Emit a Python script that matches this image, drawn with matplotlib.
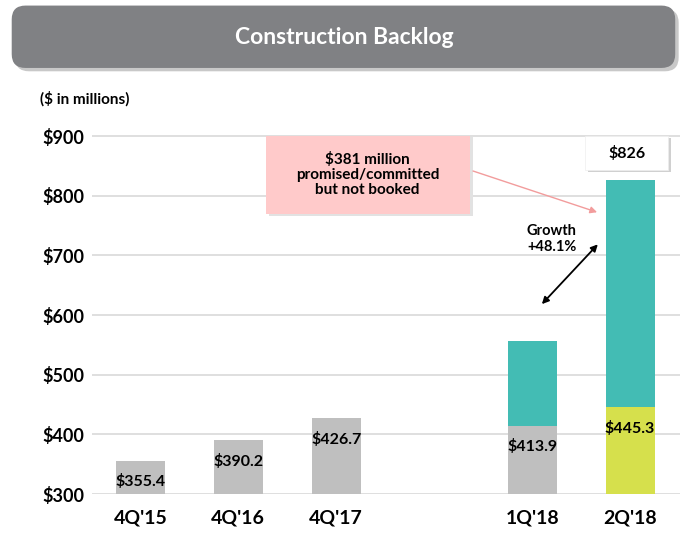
import matplotlib
matplotlib.use('Agg')
import matplotlib.pyplot as plt
from matplotlib.patches import FancyBboxPatch, Rectangle

# data
periods = ["4Q'15", "4Q'16", "4Q'17", "1Q'18", "2Q'18"]
slots = [0, 1, 2, 4, 5]  # gap before 2018 quarters
booked = [355.4, 390.2, 426.7, 413.9, 445.3]
promised = [0, 0, 0, 142.0, 380.7]
total_2q18 = 826
growth_label = "Growth\n+48.1%"
note_text = "$381 million\npromised/committed\nbut not booked"
yticks = [300, 400, 500, 600, 700, 800, 900]

GRAY = '#bfbfbf'
TEAL = '#43bcb4'
YELLOW = '#d6e04c'

plt.rcParams['font.family'] = ['Lato', 'DejaVu Sans']

fig = plt.figure(figsize=(6.89, 5.57), dpi=100)
ax = fig.add_axes([0.134, 0.113, 0.853, 0.664])

base = 300
booked_colors = [GRAY, GRAY, GRAY, GRAY, YELLOW]
heights = [b - base for b in booked]
ax.bar(slots, heights, bottom=base, width=0.5, color=booked_colors, zorder=3)
ax.bar(slots, promised, bottom=booked, width=0.5, color=TEAL, zorder=3)

# value labels just under the top of the booked part
for x, v in zip(slots, booked):
    ax.annotate(f"${v:.1f}", (x, v), xytext=(0, -15), textcoords='offset points',
                ha='center', va='center', fontsize=11.5, fontweight='bold', zorder=5)

ax.set_xlim(-0.49, 5.51)
ax.set_ylim(300, 920)
ax.set_yticks(yticks)
ax.set_yticklabels([f"${t}" for t in yticks])
ax.set_xticks(slots)
ax.set_xticklabels(periods)
ax.tick_params(axis='both', length=0)
ax.tick_params(axis='x', pad=11, labelsize=14)
ax.tick_params(axis='y', pad=6, labelsize=13)
for lab in ax.get_xticklabels() + ax.get_yticklabels():
    lab.set_fontweight('bold')
for s in ax.spines.values():
    s.set_visible(False)
ax.grid(axis='y', color='#d9d9d9', linewidth=1.2, zorder=0)

# pink call-out box
ax.add_patch(Rectangle((1.31, 766), 2.09, 132, facecolor='#e2e2e2', edgecolor='none', zorder=3, clip_on=False))
ax.add_patch(Rectangle((1.28, 770), 2.09, 131, facecolor='#ffcaca', edgecolor='none', zorder=4, clip_on=False))
ax.text(2.32, 836, note_text, ha='center', va='center', fontsize=11, fontweight='bold',
        linespacing=1.1, zorder=5)
ax.annotate('', xy=(4.69, 771), xytext=(3.37, 843),
            arrowprops=dict(arrowstyle='-|>', color='#f29c9c', lw=1.0, mutation_scale=10), zorder=4)

# total label box for 2Q'18
ax.add_patch(Rectangle((4.57, 840), 0.85, 57, facecolor='#d0d0d0', edgecolor='none', zorder=3, clip_on=False))
ax.add_patch(Rectangle((4.54, 844), 0.85, 57, facecolor='white', edgecolor='#eeeeee', lw=0.5, zorder=4, clip_on=False))
ax.text(4.965, 871, f"${total_2q18}", ha='center', va='center', fontsize=11.5, fontweight='bold', zorder=5)

# growth arrow
ax.annotate('', xy=(4.69, 722), xytext=(4.08, 615),
            arrowprops=dict(arrowstyle='<|-|>', color='black', lw=1.3, mutation_scale=10), zorder=5)
ax.text(4.2, 727, growth_label, ha='center', va='center', fontsize=10.5, fontweight='bold', zorder=5)

# banner
fig.patches.append(FancyBboxPatch((0.022, 0.872), 0.963, 0.112, boxstyle='round,pad=0,rounding_size=0.02',
                                  transform=fig.transFigure, facecolor='#c8c8c8', edgecolor='none',
                                  mutation_aspect=689 / 557))
fig.patches.append(FancyBboxPatch((0.017, 0.878), 0.963, 0.112, boxstyle='round,pad=0,rounding_size=0.02',
                                  transform=fig.transFigure, facecolor='#808184', edgecolor='none',
                                  mutation_aspect=689 / 557))
fig.text(0.5, 0.932, "Construction Backlog", ha='center', va='center', color='white',
         fontsize=16.5, fontweight='bold')
fig.text(0.058, 0.822, "($ in millions)", ha='left', va='center', fontsize=11, fontweight='bold')

fig.savefig('out.png', dpi=100)
